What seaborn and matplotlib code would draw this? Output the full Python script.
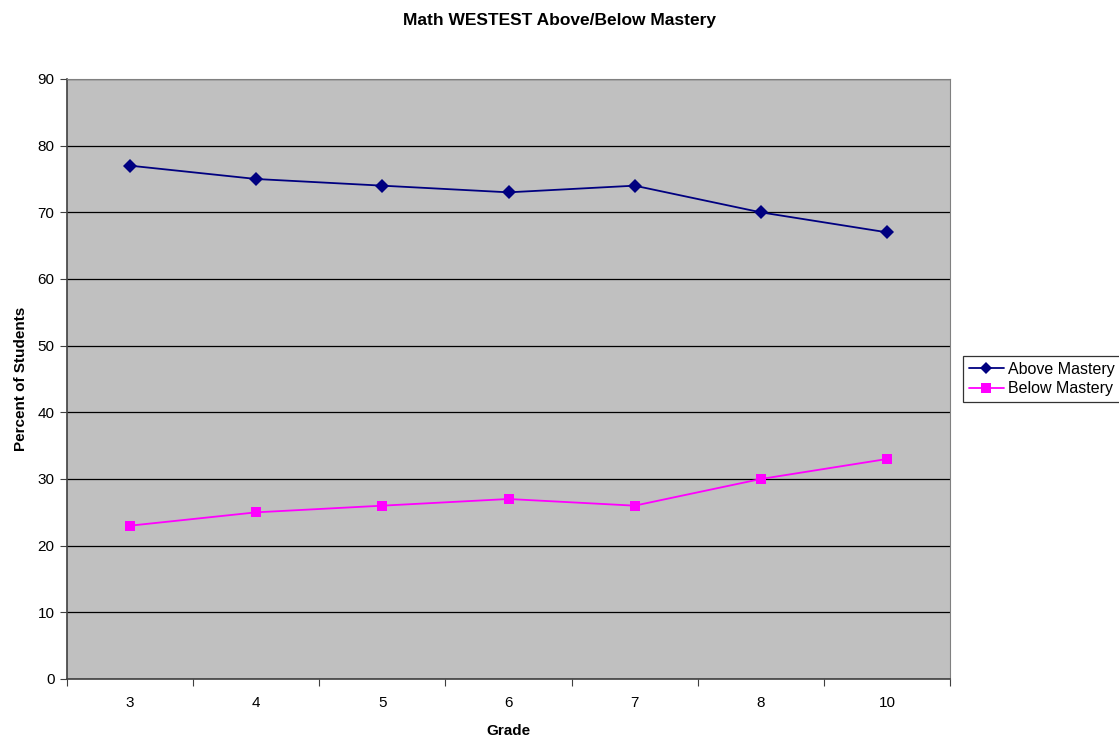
import matplotlib
matplotlib.use("Agg")
import matplotlib.pyplot as plt
import seaborn as sns
import pandas as pd
import numpy as np
from matplotlib.ticker import FixedLocator, NullFormatter
from matplotlib.lines import Line2D

grades = ["3", "4", "5", "6", "7", "8", "10"]
above = [77, 75, 74, 73, 74, 70, 67]
below = [23, 25, 26, 27, 26, 30, 33]

sns.set_theme(style="white")
plt.rcParams['font.family'] = ['Liberation Sans', 'DejaVu Sans']
plt.rcParams['text.color'] = 'black'
plt.rcParams['axes.labelcolor'] = 'black'
plt.rcParams['xtick.color'] = 'black'
plt.rcParams['ytick.color'] = 'black'

df = pd.DataFrame({
    "pos": list(range(len(grades))) * 2,
    "value": above + below,
    "series": ["Above Mastery"] * len(grades) + ["Below Mastery"] * len(grades),
})

fig = plt.figure(figsize=(11.19, 7.41), dpi=100)
W, H = 1119, 741
ax = fig.add_axes([67 / W, 1 - 679 / H, (950 - 67) / W, (679 - 79) / H])
ax.set_facecolor("#C0C0C0")

sns.lineplot(data=df, x="pos", y="value", hue="series", style="series",
             palette={"Above Mastery": "#000080", "Below Mastery": "#FF00FF"},
             markers={"Above Mastery": "D", "Below Mastery": "s"},
             dashes=False, markersize=7, linewidth=1.3, markeredgewidth=0,
             ax=ax, legend=False, zorder=3)

ax.set_xlim(-0.5, len(grades) - 0.5)
ax.set_ylim(0, 90)
ax.set_yticks(range(0, 91, 10))
ax.yaxis.grid(True, color="black", linewidth=0.9)
ax.set_axisbelow(True)

ax.xaxis.set_major_locator(FixedLocator(np.arange(-0.5, len(grades), 1.0)))
ax.xaxis.set_major_formatter(NullFormatter())
ax.xaxis.set_minor_locator(FixedLocator(range(len(grades))))
ax.set_xticklabels(grades, minor=True)
ax.tick_params(axis="x", which="major", length=5, width=0.8, color="#404040", direction="out", bottom=True)
ax.tick_params(axis="x", which="minor", length=0, pad=12, labelsize=11, bottom=True, labelcolor="black")
ax.tick_params(axis="y", length=5, width=0.8, color="#404040", direction="out", left=True, labelsize=11, pad=4, labelcolor="black")

for s in ["left", "bottom"]:
    ax.spines[s].set_color("#404040")
    ax.spines[s].set_linewidth(1.2)
for s in ["top", "right"]:
    ax.spines[s].set_color("#808080")
    ax.spines[s].set_linewidth(0.8)

ax.set_xlabel("Grade", fontsize=11, fontweight="bold", labelpad=10, color="black")
ax.set_ylabel("Percent of Students", fontsize=11, fontweight="bold", labelpad=7, color="black")
fig.text(0.5, 1 - 20 / H, "Math WESTEST Above/Below Mastery",
         ha="center", va="center", fontsize=12.5, fontweight="bold", color="black")

handles = [
    Line2D([], [], color="#000080", marker="D", markersize=6, markeredgewidth=0, linewidth=1.3),
    Line2D([], [], color="#FF00FF", marker="s", markersize=7, markeredgewidth=0, linewidth=1.3),
]
leg = fig.legend(handles, ["Above Mastery", "Below Mastery"],
                 loc="center left", bbox_to_anchor=(963 / W, 1 - 379 / H),
                 frameon=True, fancybox=False, fontsize=11.5, handlelength=2.2,
                 handletextpad=0.25, borderpad=0.35, labelspacing=0.3, borderaxespad=0)
leg.get_frame().set_edgecolor("black")
leg.get_frame().set_linewidth(0.9)
for t in leg.get_texts():
    t.set_color("black")

fig.savefig("out.png", dpi=100)
